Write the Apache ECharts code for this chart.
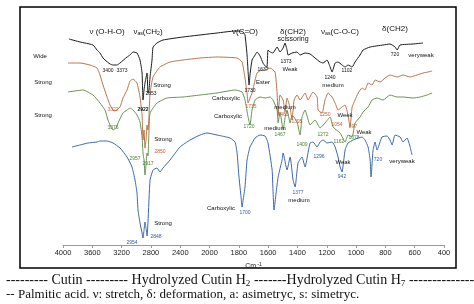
<!DOCTYPE html>
<html lang="en">
<head>
<meta charset="UTF-8" />
<title>FTIR cutin</title>
<script src="https://cdn.jsdelivr.net/npm/echarts@6/dist/echarts.min.js"></script>
<style>
  html, body { margin: 0; padding: 0; background: #fff; }
  #chart { width: 474px; height: 304px; }
</style>
</head>
<body>
<div id="chart"></div>
<script>
// wavenumber (cm-1), relative transmittance (a.u., offset per spectrum)
const cutin = [
  [3918,206],[3768,203],[3700,202],[3590,200],[3536,195],[3495,192],[3454,187],[3427,185],
  [3358,181],[3317,180],[3263,180],[3222,182],[3126,188],[3085,190],[3044,193],[2990,192],
  [2949,185],[2921,172],[2908,145],[2894,155],[2881,162],[2853,172],[2840,152],[2826,155],
  [2812,168],[2785,185],[2771,198],[2717,202],[2635,205],[2362,208],[1949,212],[1826,214],
  [1792,214],[1771,213],[1758,210],[1744,190],[1730,160],[1724,170],[1710,185],[1689,190],
  [1676,193],[1655,189],[1635,182],[1621,179],[1608,178],[1601,195],[1587,193],[1567,192],
  [1539,198],[1519,193],[1498,197],[1485,202],[1471,195],[1464,190],[1437,192],[1403,193],
  [1382,190],[1348,192],[1314,191],[1280,187],[1246,183],[1225,182],[1198,185],[1177,178],
  [1164,173],[1143,182],[1123,183],[1096,180],[1075,178],[1055,180],[1027,178],[1007,183],
  [973,190],[952,195],[904,198],[816,200],[768,201],[734,198],[720,195],[700,200],
  [611,201],[543,202]
];
const cutinH2 = [
  [3932,182],[3768,182],[3631,180],[3536,177],[3495,170],[3454,160],[3399,148],[3358,140],
  [3317,135],[3290,134],[3222,138],[3181,147],[3126,155],[3085,164],[3044,166],[2990,162],
  [2949,148],[2921,130],[2908,105],[2894,115],[2881,97],[2867,105],[2853,120],[2840,115],
  [2826,130],[2812,152],[2771,168],[2676,178],[2539,183],[2362,185],[2130,187],[1949,188],
  [1812,187],[1778,183],[1758,167],[1744,152],[1737,142],[1724,147],[1710,152],[1689,165],
  [1676,172],[1642,175],[1621,175],[1587,177],[1553,173],[1539,152],[1532,130],[1519,150],
  [1498,145],[1485,133],[1471,147],[1450,137],[1437,125],[1423,145],[1403,150],[1382,145],
  [1348,152],[1328,145],[1294,153],[1266,148],[1259,135],[1232,132],[1212,145],[1191,152],
  [1164,148],[1143,142],[1123,135],[1096,138],[1075,140],[1055,130],[1041,118],[1027,138],
  [1007,145],[986,152],[959,157],[939,155],[918,162],[891,160],[870,165],[836,163],
  [802,167],[768,170],[720,168],[679,170],[631,168],[584,170],[543,172],[509,173],[481,174]
];
const cutinH7 = [
  [3932,153],[3727,155],[3590,150],[3495,142],[3427,135],[3386,125],[3358,120],[3317,115],
  [3276,117],[3249,122],[3181,132],[3126,135],[3085,137],[3044,135],[2990,130],[2949,123],
  [2921,108],[2908,92],[2894,85],[2881,70],[2867,80],[2853,92],[2840,89],[2826,115],
  [2812,132],[2717,142],[2580,147],[2362,148],[2130,150],[1949,152],[1826,155],[1778,153],
  [1758,145],[1737,128],[1724,120],[1710,135],[1689,145],[1655,148],[1621,147],[1587,148],
  [1567,145],[1539,135],[1532,122],[1519,133],[1498,115],[1485,127],[1471,135],[1450,122],
  [1437,130],[1403,123],[1382,110],[1369,128],[1348,135],[1314,120],[1280,125],[1259,120],
  [1246,117],[1212,122],[1177,128],[1157,118],[1109,112],[1075,103],[1055,110],[1027,108],
  [1007,122],[973,128],[952,133],[918,138],[891,145],[857,147],[816,145],[768,150],
  [720,148],[679,148],[611,147],[563,148],[515,150],[481,152]
];
const palmitic = [
  [3877,98],[3768,100],[3659,102],[3536,103],[3495,104],[3399,104],[3317,102],[3222,97],
  [3126,88],[3058,78],[3017,65],[2990,52],[2976,35],[2949,22],[2921,12],[2908,7],
  [2894,15],[2881,23],[2867,17],[2853,9],[2840,23],[2812,65],[2771,75],[2717,77],
  [2676,73],[2635,77],[2539,85],[2403,98],[2266,105],[2130,110],[2034,112],[1949,110],
  [1860,107],[1826,103],[1812,92],[1799,68],[1785,48],[1778,38],[1771,45],[1758,58],
  [1744,85],[1724,98],[1689,107],[1655,110],[1621,109],[1601,102],[1573,75],[1567,55],
  [1560,35],[1546,52],[1532,68],[1505,85],[1498,92],[1471,75],[1450,88],[1430,65],
  [1416,58],[1396,82],[1369,88],[1348,78],[1328,92],[1314,102],[1294,103],[1266,98],
  [1246,103],[1225,105],[1198,102],[1164,103],[1143,98],[1123,88],[1109,78],[1096,73],
  [1075,95],[1055,102],[1020,105],[986,107],[959,108],[939,105],[918,98],[904,85],
  [898,68],[884,95],[870,103],[857,95],[823,108],[788,109],[768,105],[754,100],
  [734,110],[700,108],[679,103],[652,107],[631,98],[618,90]
];
const tickLabels = ['4000','3600','3200','2800','2400','2000','1800','1600','1400','1200','1000','800','600','400'];

// annotations: [x, y, text, colour, size, bold]
const K = '#111', BR = '#c4623a', GR = '#4f7f34', BL = '#2f5fa0';
const notes = [
  [107,32,'ν (O-H-O)',K,8], [245,32,'ν(C=O)',K,8], [293,32,'δ(CH2)',K,8],
  [293,39,'scissoring',K,7], [395,29,'δ(CH2)',K,8],
  [40,56,'Wide',K,6], [43,82,'Strong',K,6], [43,115,'Strong',K,6],
  [115,71,'3400  3373',K,5], [143,110,'2922',K,5,1], [151,94,'2853',K,5], [162,85,'Strong',K,6],
  [250,91,'1730',K,5], [263,82,'Ester',K,6], [263,70,'1637',K,5], [286,62,'1373',K,5],
  [290,69,'Weak',K,6], [330,78,'1240',K,5], [333,85,'medium',K,6], [347,71,'1102',K,5],
  [395,55,'720',K,5], [421,55,'veryweak',K,6],
  [113,110,'3322',BR,5], [160,152,'2850',BR,5], [251,107,'1735',BR,5], [283,115,'1465',BR,5],
  [297,122,'1395',BR,5], [325,115,'1250',BR,5], [337,125,'1054',BR,5], [353,127,'897',BR,5],
  [163,139,'Strong',K,6], [226,98,'Carboxylic',K,6], [228,116,'Carboxylic',K,6],
  [285,107,'medium',K,6], [275,128,'medium',K,6], [345,115,'Week',K,6], [364,132,'Weak',K,6],
  [113,128,'3376',GR,5], [135,159,'2957',GR,5], [148,164,'2917',GR,5], [249,127,'1720',GR,5],
  [280,135,'1467',GR,5], [302,145,'1409',GR,5], [323,135,'1272',GR,5], [339,142,'1162',GR,5],
  [354,138,'1078',GR,5],
  [132,243,'2954',BL,5], [156,237,'2848',BL,5], [163,223,'Strong',K,6], [245,213,'1700',BL,5],
  [221,208,'Carboxylic',K,6], [298,193,'1377',BL,5], [299,200,'medium',K,6], [319,157,'1296',BL,5],
  [343,162,'Weak',K,6], [342,177,'942',BL,5], [378,160,'720',BL,5], [402,161,'veryweak',K,6]
];

// x axis has a scale change at 2000 cm-1
function toPos(w) {
  return w >= 2000 ? (4000 - w) / 400 : 5 + (2000 - w) / 200;
}
function prep(arr) {
  return arr.map(p => [toPos(p[0]), p[1]]);
}

const chart = echarts.init(document.getElementById('chart'));
const sans = 'Liberation Sans, Arial, sans-serif';
const serif = 'Liberation Serif, Times New Roman, serif';

const graphic = notes.map(n => ({
  type: 'text', x: n[0], y: n[1], z: 10,
  style: {
    text: n[2], fill: n[3], fontSize: n[4], fontFamily: sans,
    fontWeight: n[5] ? 'bold' : 'normal', align: 'center', verticalAlign: 'middle'
  }
}));
const subRich = (sz, fam) => ({
  n: { fontSize: sz, fontFamily: fam, fill: '#111' },
  s: { fontSize: sz * 0.65, fontFamily: fam, fill: '#111', padding: [sz * 0.45, 0, 0, 0] }
});
graphic.push(
  { type: 'text', x: 148, y: 32, z: 10, style: { text: '{n|ν}{s|as}{n|(CH}{s|2}{n|)}', rich: subRich(8, sans), align: 'center', verticalAlign: 'middle' } },
  { type: 'text', x: 340, y: 32, z: 10, style: { text: '{n|ν}{s|as}{n|(C-O-C)}', rich: subRich(8, sans), align: 'center', verticalAlign: 'middle' } },
  { type: 'rect', shape: { x: 20, y: 7, width: 436, height: 261 }, style: { fill: 'none', stroke: '#000', lineWidth: 1.5 } },
  { type: 'text', x: 6, y: 280, style: { text: '{n|--------- Cutin --------- Hydrolyzed Cutin H}{s|2}{n| -------Hydrolyzed Cutin H}{s|7}{n| ---------------}', rich: subRich(14, serif), verticalAlign: 'middle' } },
  { type: 'text', x: 6, y: 295, style: { text: '-- Palmitic acid. ν: stretch, δ: deformation, a: asimetryc, s: simetryc.', fill: '#111', fontSize: 13, fontFamily: serif, verticalAlign: 'middle' } }
);

function line(name, data, color) {
  return {
    name: name, type: 'line', data: prep(data), showSymbol: false, smooth: 0.15,
    lineStyle: { color: color, width: 1 }, itemStyle: { color: color }, animation: false
  };
}

chart.setOption({
  animation: false,
  grid: { left: 63, right: 30, top: 7, bottom: 59 },
  xAxis: {
    type: 'value', min: 0, max: 13, interval: 1,
    axisLine: { lineStyle: { color: '#999', width: 1 } },
    axisTick: { show: true, length: 3, lineStyle: { color: '#999' } },
    splitLine: { show: false },
    axisLabel: { margin: 4, fontSize: 7.5, color: '#222', fontFamily: sans, formatter: v => tickLabels[v] || '' },
    name: '{a|Cm}{b| -1}', nameLocation: 'middle', nameGap: 12,
    nameTextStyle: { rich: { a: { fontSize: 7, color: '#222' }, b: { fontSize: 5, color: '#222', padding: [0, 0, 4, 0] } } }
  },
  yAxis: { type: 'value', min: 0, max: 238, show: false },
  series: [
    line('Palmitic acid', palmitic, '#3c68a6'),
    line('Hydrolyzed Cutin H7', cutinH7, '#6a9150'),
    line('Hydrolyzed Cutin H2', cutinH2, '#b5754a'),
    line('Cutin', cutin, '#1a1a1a')
  ],
  graphic: graphic
});
</script>
</body>
</html>
